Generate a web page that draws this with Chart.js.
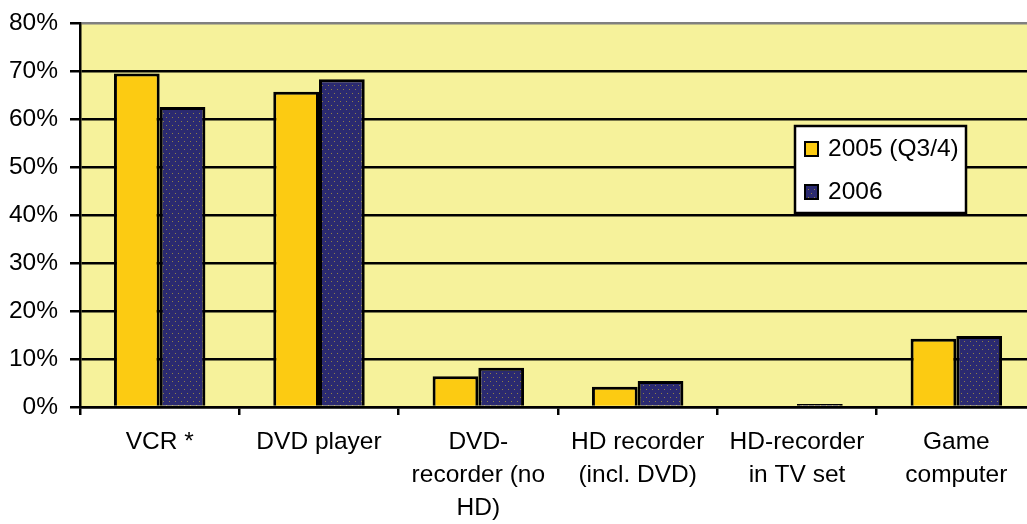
<!DOCTYPE html>
<html><head><meta charset="utf-8">
<script src="https://cdn.jsdelivr.net/npm/chart.js@4"></script>
<style>html,body{margin:0;padding:0;overflow:hidden;background:#fff}#wrap{width:1040px;height:524px}</style>
</head><body><div id="wrap"><canvas id="c" width="1040" height="524"></canvas></div>
<script>
const categories = ['VCR *', 'DVD player', ['DVD-', 'recorder (no', 'HD)'], ['HD recorder', '(incl. DVD)'], ['HD-recorder', 'in TV set'], ['Game', 'computer']];
const seriesNames = ['2005 (Q3/4)', '2006'];
const values2005 = [69.5, 65.7, 6.4, 4.2, 0, 14.2];
const values2006 = [62.5, 68.3, 8.2, 5.4, 0.6, 14.8];
const yMin = 0, yMax = 80, yStep = 10;

const FONT = '"Liberation Sans", Arial, sans-serif';
const FS = 24.5;

function makePattern() {
  const p = document.createElement('canvas'); p.width = 6; p.height = 8;
  const g = p.getContext('2d');
  g.fillStyle = '#2B2A70'; g.fillRect(0, 0, 6, 8);
  g.fillStyle = '#8E8048';
  g.fillRect(1, 1, 1, 1); g.fillRect(4, 5, 1, 1);
  return g.createPattern(p, 'repeat');
}
const navyPattern = makePattern();

const bgPlugin = {
  id: 'plotBg',
  beforeDraw(chart) {
    const a = chart.chartArea, ctx = chart.ctx;
    ctx.save(); ctx.fillStyle = '#F6F29B';
    ctx.fillRect(a.left, a.top, a.right - a.left, a.bottom - a.top);
    ctx.restore();
  }
};

const legendPlugin = {
  id: 'boxLegend',
  afterDraw(chart) {
    const ctx = chart.ctx;
    ctx.save();
    ctx.fillStyle = '#fff'; ctx.fillRect(795, 126, 171, 87);
    ctx.lineWidth = 2.5; ctx.strokeStyle = '#000'; ctx.strokeRect(795, 126, 171, 87);
    chart.data.datasets.forEach((ds, i) => {
      const cy = 149 + i * 43;
      ctx.fillStyle = ds.backgroundColor;
      ctx.fillRect(805, cy - 7, 13, 14);
      ctx.lineWidth = 2; ctx.strokeStyle = '#000';
      ctx.strokeRect(805, cy - 7, 13, 14);
      ctx.fillStyle = '#000'; ctx.font = FS + 'px ' + FONT; ctx.textBaseline = 'middle'; ctx.textAlign = 'left';
      ctx.fillText(ds.label, 828, cy);
    });
    ctx.restore();
  }
};

new Chart(document.getElementById('c'), {
  type: 'bar',
  data: {
    labels: categories,
    datasets: [
      { label: seriesNames[0], data: values2005, backgroundColor: '#FCCB12', borderColor: '#000', borderWidth: 3, borderSkipped: 'bottom' },
      { label: seriesNames[1], data: values2006, backgroundColor: navyPattern, borderColor: '#000', borderWidth: 3, borderSkipped: 'bottom' }
    ]
  },
  options: {
    responsive: false,
    animation: false,
    devicePixelRatio: 1,
    layout: { padding: { top: 21, right: 4, left: 0, bottom: 0 } },
    datasets: { bar: { categoryPercentage: 0.574, barPercentage: 1 } },
    plugins: { legend: { display: false }, tooltip: { enabled: false } },
    scales: {
      x: {
        offset: true,
        grid: { offset: true, drawOnChartArea: false, drawTicks: true, tickLength: 8, color: '#000', lineWidth: 2.5 },
        border: { color: '#000', width: 2.5 },
        ticks: { color: '#000', font: { family: FONT, size: FS, lineHeight: 1.34 }, padding: 11, maxRotation: 0, autoSkip: false },
        afterFit(s) { s.height = 117; }
      },
      y: {
        min: yMin, max: yMax,
        grid: { color: ctx => (ctx.tick && ctx.tick.value === yMax ? '#808080' : '#000'), lineWidth: 2.5, tickLength: 10, tickColor: '#000' },
        border: { color: '#000', width: 2.5 },
        ticks: { stepSize: yStep, color: '#000', font: { family: FONT, size: FS, lineHeight: 0.9 }, padding: 12, callback: v => v + '%' },
        afterFit(s) { s.width = 80; }
      }
    }
  },
  plugins: [bgPlugin, legendPlugin]
});
</script>
</body></html>
